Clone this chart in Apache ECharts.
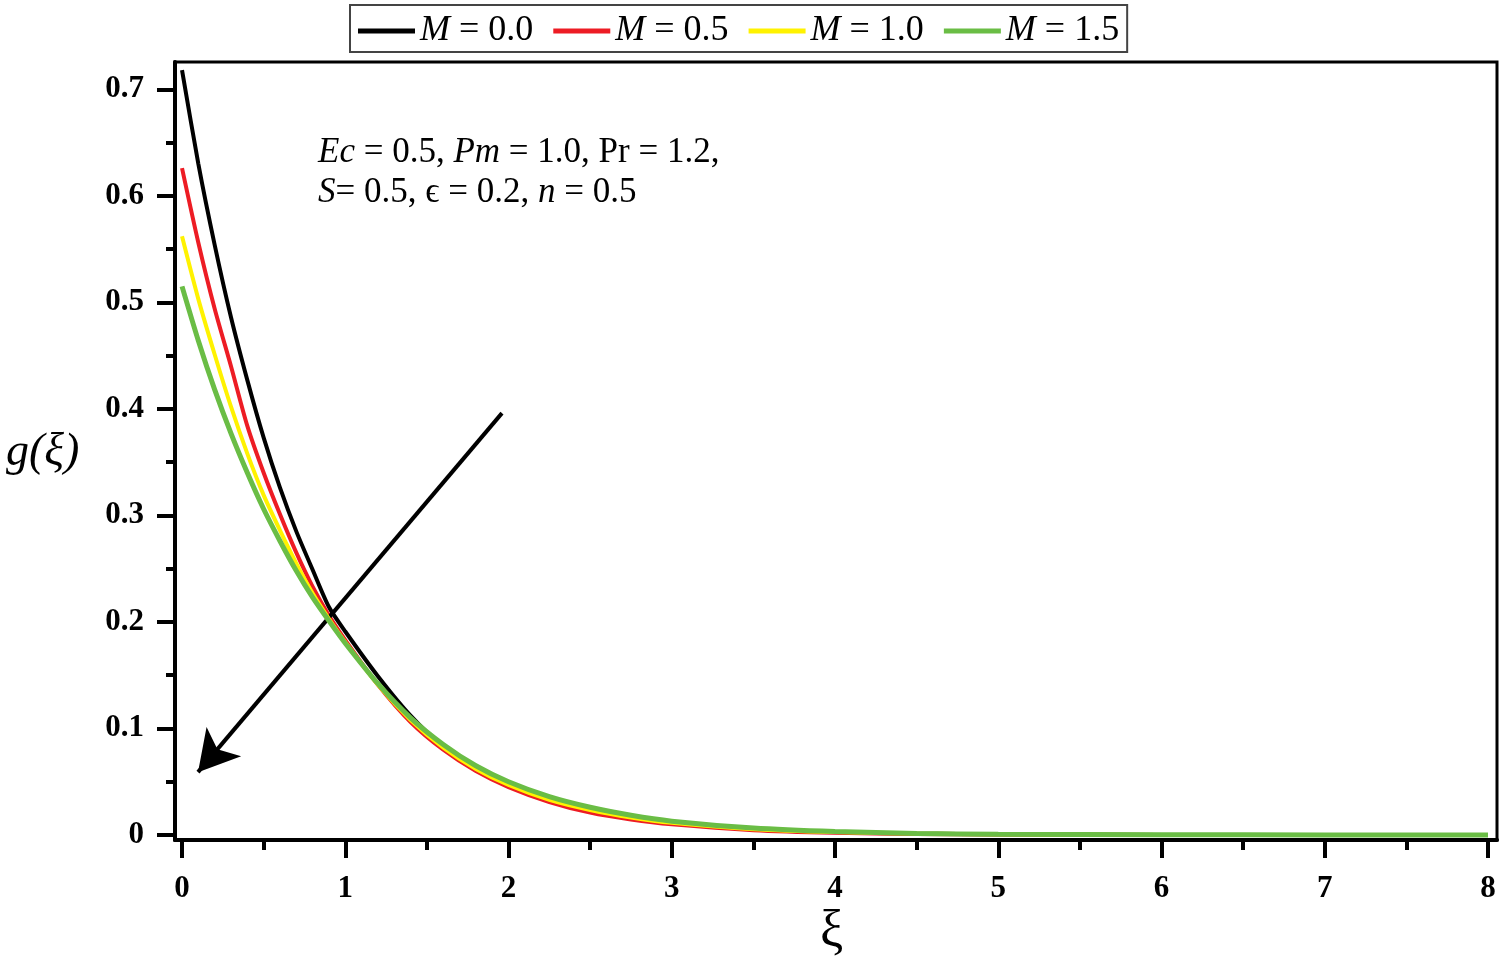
<!DOCTYPE html>
<html>
<head>
<meta charset="utf-8">
<script src="https://cdn.jsdelivr.net/npm/echarts@6/dist/echarts.min.js"></script>
<style>
html,body{margin:0;padding:0;background:#fff;}
#chart{width:1504px;height:964px;}
</style>
</head>
<body>
<div id="chart"></div>
<script>
// ---- data ----
const xi = [0, 0.1, 0.2, 0.3, 0.4, 0.5, 0.6, 0.7, 0.8, 0.9, 1.0, 1.2, 1.4, 1.6, 1.8, 2.0, 2.25, 2.5, 2.75, 3.0, 3.5, 4.0, 4.5, 5, 6, 7, 8];
const gM00 = [0.718, 0.630, 0.554, 0.486, 0.427, 0.373, 0.326, 0.285, 0.249, 0.214, 0.191, 0.149, 0.112, 0.083, 0.063, 0.048, 0.034, 0.024, 0.017, 0.012, 0.0058, 0.0028, 0.0013, 0.0006, 0.0001, 0, 0];
const gM05 = [0.626, 0.556, 0.494, 0.440, 0.384, 0.340, 0.301, 0.265, 0.233, 0.206, 0.183, 0.141, 0.106, 0.080, 0.060, 0.045, 0.031, 0.021, 0.0145, 0.010, 0.0045, 0.002, 0.0009, 0.0004, 0.0001, 0, 0];
const gM10 = [0.562, 0.503, 0.451, 0.402, 0.358, 0.319, 0.286, 0.255, 0.227, 0.203, 0.181, 0.141, 0.108, 0.082, 0.062, 0.047, 0.033, 0.0235, 0.0165, 0.0115, 0.0055, 0.0027, 0.0013, 0.0006, 0.0001, 0, 0];
const gM15 = [0.515, 0.464, 0.418, 0.377, 0.340, 0.306, 0.276, 0.248, 0.223, 0.201, 0.180, 0.142, 0.110, 0.085, 0.065, 0.050, 0.036, 0.026, 0.0185, 0.013, 0.0065, 0.0032, 0.0015, 0.0007, 0.0002, 0.0001, 0];
const seriesNames = ['0.0', '0.5', '1.0', '1.5'];
const xMajorTicks = [0, 1, 2, 3, 4, 5, 6, 7, 8];
const xMinorTicks = [0.5, 1.5, 2.5, 3.5, 4.5, 5.5, 6.5, 7.5];
const yMajorTicks = [0, 0.1, 0.2, 0.3, 0.4, 0.5, 0.6, 0.7];
const yMinorTicks = [0.05, 0.15, 0.25, 0.35, 0.45, 0.55, 0.65];
const arrowStart = [1.96, 0.396];
const arrowEnd = [0.098, 0.059];
// -------------------------------------

const colors = ['#000000', '#ed1c24', '#fff200', '#6abd45'];
const values = [gM00, gM05, gM10, gM15];
const serif = 'Liberation Serif, Times New Roman, serif';

const X_MIN = -0.043, X_MAX = 8.055, Y_MIN = -0.0047, Y_MAX = 0.7256;

function xAxisCfg(major) {
  return {
    type: 'value', min: X_MIN, max: X_MAX, position: 'bottom', offset: 0,
    axisLine: {show: major, onZero: false, lineStyle: {color: '#000', width: 4}},
    axisTick: {show: true, inside: false, length: major ? 18 : 10,
      customValues: major ? xMajorTicks : xMinorTicks,
      lineStyle: {color: '#000', width: 4}},
    axisLabel: {show: major, customValues: xMajorTicks, margin: 33,
      fontFamily: serif, fontWeight: 'bold', fontSize: 31, color: '#000',
      formatter: v => String(Math.round(v))},
    splitLine: {show: false}
  };
}
function yAxisCfg(major) {
  return {
    type: 'value', min: Y_MIN, max: Y_MAX, position: 'left', offset: 0,
    axisLine: {show: major, onZero: false, lineStyle: {color: '#000', width: 4}},
    axisTick: {show: true, inside: false, length: major ? 18 : 9,
      customValues: major ? yMajorTicks : yMinorTicks,
      lineStyle: {color: '#000', width: 4}},
    axisLabel: {show: major, customValues: yMajorTicks, margin: 31,
      fontFamily: serif, fontWeight: 'bold', fontSize: 31, color: '#000',
      formatter: v => Math.abs(v) < 1e-9 ? '0' : v.toFixed(1)},
    splitLine: {show: false}
  };
}

const series = values.map((arr, k) => ({
  name: seriesNames[k],
  type: 'line',
  xAxisIndex: 0, yAxisIndex: 0,
  data: xi.map((x, i) => [x, arr[i]]),
  showSymbol: false,
  symbol: 'none',
  smooth: 0.25,
  color: colors[k],
  lineStyle: {color: colors[k], width: k === 3 ? 5 : 4},
  z: 3 + k
}));

series[0].markLine = {
  silent: true,
  animation: false,
  symbol: ['none', 'arrow'],
  symbolSize: [34, 40],
  label: {show: false},
  lineStyle: {color: '#000', width: 4, type: 'solid'},
  itemStyle: {color: '#000'},
  data: [[{coord: arrowStart}, {coord: arrowEnd}]]
};

const chart = echarts.init(document.getElementById('chart'), null, {renderer: 'canvas'});
chart.setOption({
  animation: false,
  backgroundColor: '#fff',
  grid: {left: 175, right: 7, top: 62, bottom: 124, show: true,
    borderColor: '#000', borderWidth: 3, backgroundColor: 'transparent'},
  legend: {
    show: true,
    left: 350, top: 5,
    padding: [8, 8, 3, 8],
    itemGap: 20,
    itemWidth: 57, itemHeight: 5,
    itemTextGap: 10,
    icon: 'rect',
    borderColor: '#444', borderWidth: 2,
    data: seriesNames,
    formatter: n => '{i|M} = ' + n,
    textStyle: {fontFamily: serif, fontSize: 36, color: '#000',
      rich: {i: {fontFamily: serif, fontSize: 36, fontStyle: 'italic', color: '#000'}}}
  },
  xAxis: [xAxisCfg(true), xAxisCfg(false)],
  yAxis: [yAxisCfg(true), yAxisCfg(false)],
  series: series,
  graphic: [
    {type: 'text', left: 6, top: 430, silent: true,
      style: {text: 'g(ξ)', fontFamily: serif, fontStyle: 'italic', fontSize: 46, fill: '#000'}},
    {type: 'text', left: 820, top: 906, silent: true,
      style: {text: 'ξ', fontFamily: serif, fontSize: 52, fill: '#000'}},
    {type: 'text', left: 318, top: 133, silent: true,
      style: {
        text: '{i|Ec} = 0.5, {i|Pm} = 1.0, Pr = 1.2,\n{i|S}= 0.5, ϵ = 0.2, {i|n} = 0.5',
        fontFamily: serif, fontSize: 35, lineHeight: 40, fill: '#000',
        rich: {i: {fontFamily: serif, fontSize: 35, fontStyle: 'italic', lineHeight: 40, fill: '#000'}}
      }}
  ]
});
</script>
</body>
</html>
